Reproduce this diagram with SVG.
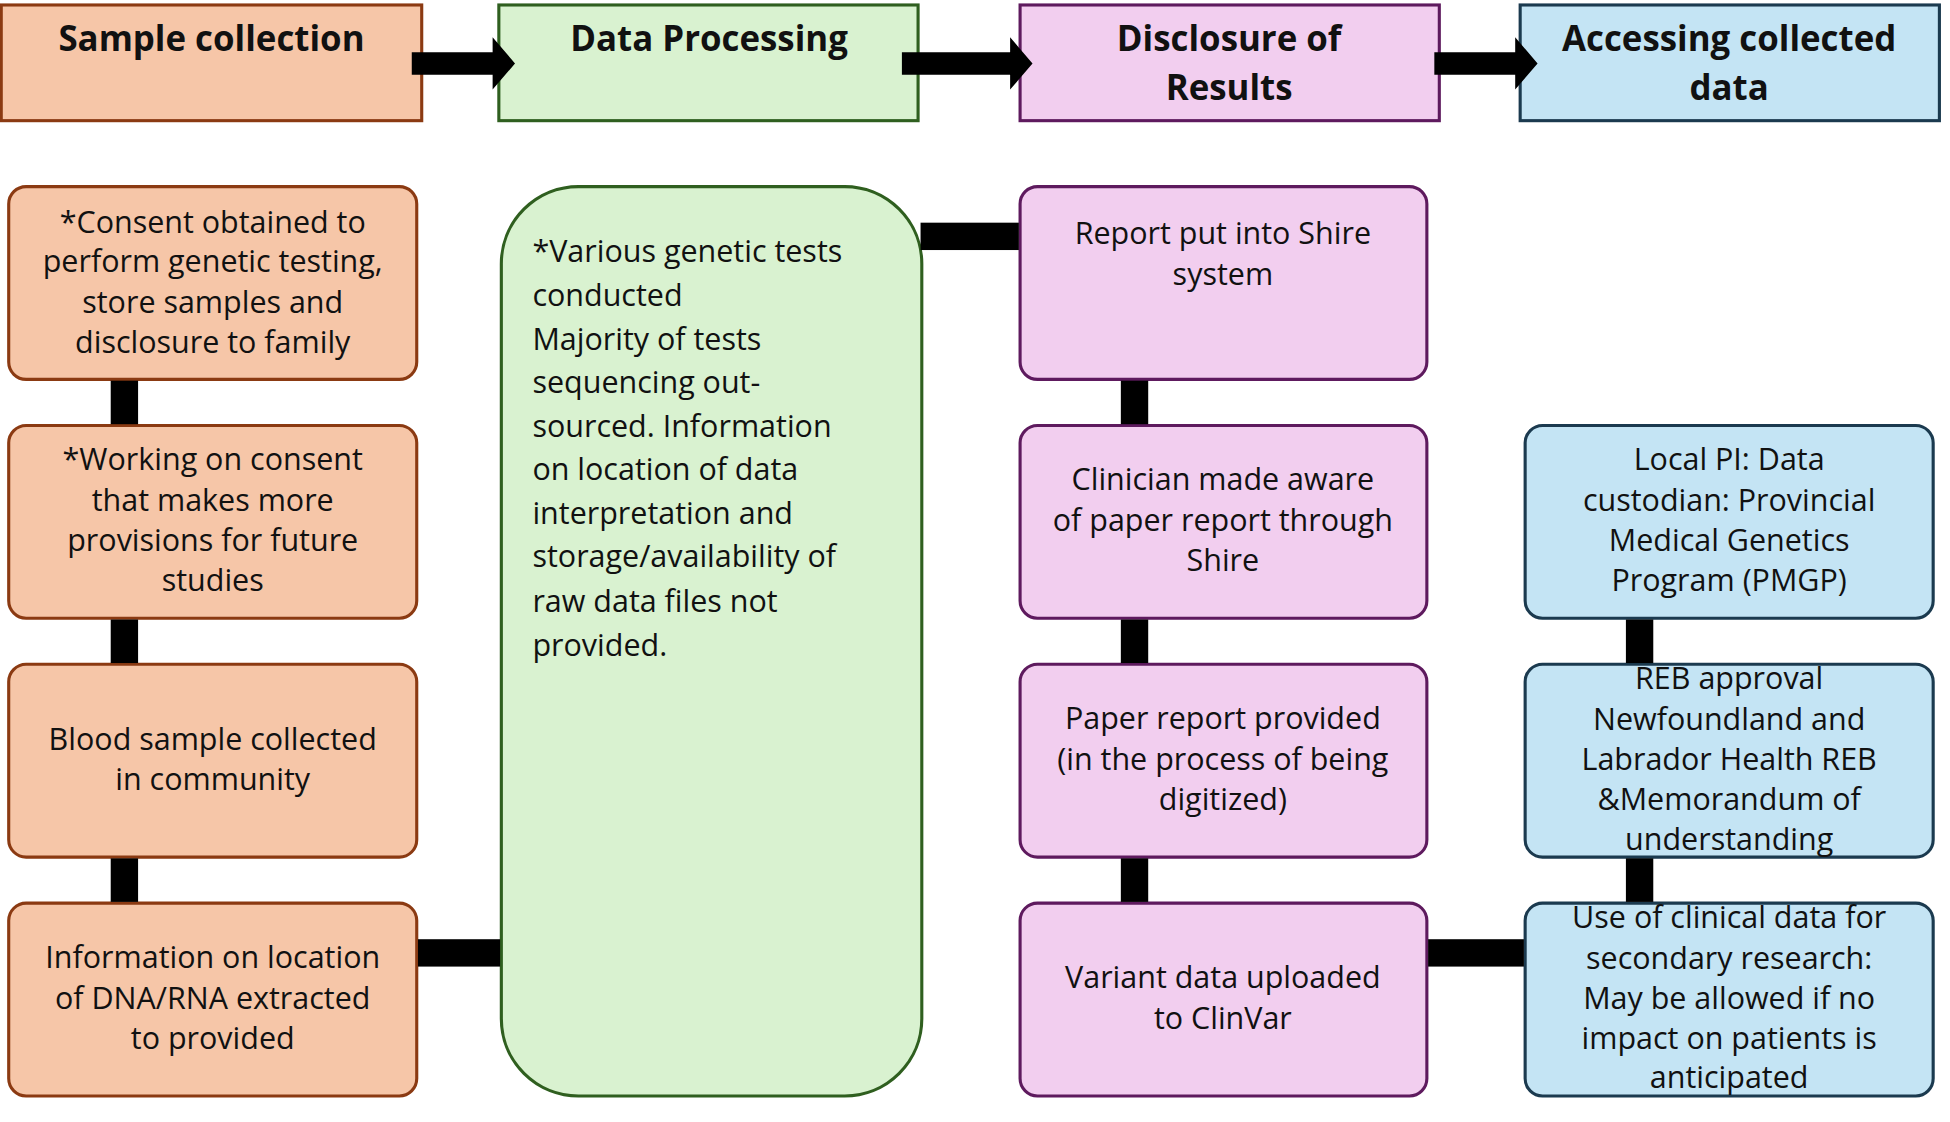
<svg xmlns="http://www.w3.org/2000/svg" width="1950" height="1122" viewBox="0 0 1950 1122">
<style>
text{font-family:"Open Sans","Liberation Sans",sans-serif;font-size:24.5px;fill:#111;text-anchor:middle}
.h{font-weight:bold;font-size:28px}
.l{text-anchor:start}
.o{fill:#F6C6A8;stroke:#8B3A12;stroke-width:2.5}
.g{fill:#D9F2D0;stroke:#2F5F1F;stroke-width:2.5}
.p{fill:#F2CEEF;stroke:#5E1A5E;stroke-width:2.5}
.b{fill:#C4E4F4;stroke:#1B3A4F;stroke-width:2.5}
</style>
<rect width="1950" height="1122" fill="#fff"/>
<g transform="scale(1.244)">
<g id="h1"><rect class="o" x="1" y="4" width="338" height="93"/><text class="h" x="170" y="41">Sample collection</text></g>
<g id="h2"><rect class="g" x="401" y="4" width="337" height="93"/><text class="h" x="570" y="41">Data Processing</text></g>
<g id="h3"><rect class="p" x="820" y="4" width="337" height="93"/><text class="h" x="988" y="41">Disclosure of</text><text class="h" x="988" y="80">Results</text></g>
<g id="h4"><rect class="b" x="1222" y="4" width="337" height="93"/><text class="h" x="1390" y="41">Accessing collected</text><text class="h" x="1390" y="80">data</text></g>
<g id="a1"><rect class="o" x="7" y="150" width="328" height="155" rx="14"/><text x="171" y="187">*Consent obtained to</text><text x="171" y="219">perform genetic testing,</text><text x="171" y="252">store samples and</text><text x="171" y="284">disclosure to family</text></g>
<g id="a2"><rect class="o" x="7" y="342" width="328" height="155" rx="14"/><text x="171" y="378">*Working on consent</text><text x="171" y="411">that makes more</text><text x="171" y="443">provisions for future</text><text x="171" y="475">studies</text></g>
<g id="a3"><rect class="o" x="7" y="534" width="328" height="155" rx="14"/><text x="171" y="603">Blood sample collected</text><text x="171" y="635">in community</text></g>
<g id="a4"><rect class="o" x="7" y="726" width="328" height="155" rx="14"/><text x="171" y="778">Information on location</text><text x="171" y="811">of DNA/RNA extracted</text><text x="171" y="843">to provided</text></g>
<g id="b1"><rect class="g" x="403" y="150" width="338" height="731" rx="62"/>
<text class="l" x="428" y="211">*Various genetic tests</text><text class="l" x="428" y="246">conducted</text><text class="l" x="428" y="281">Majority of tests</text><text class="l" x="428" y="316">sequencing  out-</text><text class="l" x="428" y="351">sourced. Information</text><text class="l" x="428" y="386">on location of data</text><text class="l" x="428" y="421">interpretation and</text><text class="l" x="428" y="456">storage/availability of</text><text class="l" x="428" y="492">raw data files not</text><text class="l" x="428" y="527">provided.</text></g>
<g id="c1"><rect class="p" x="820" y="150" width="327" height="155" rx="14"/><text x="983" y="196">Report put into Shire</text><text x="983" y="229">system</text></g>
<g id="c2"><rect class="p" x="820" y="342" width="327" height="155" rx="14"/><text x="983" y="394">Clinician made aware</text><text x="983" y="427">of paper report through</text><text x="983" y="459">Shire</text></g>
<g id="c3"><rect class="p" x="820" y="534" width="327" height="155" rx="14"/><text x="983" y="586">Paper report provided</text><text x="983" y="619">(in the process of being</text><text x="983" y="651">digitized)</text></g>
<g id="c4"><rect class="p" x="820" y="726" width="327" height="155" rx="14"/><text x="983" y="794">Variant data uploaded</text><text x="983" y="827">to ClinVar</text></g>
<g id="d1"><rect class="b" x="1226" y="342" width="328" height="155" rx="14"/><text x="1390" y="378">Local PI: Data</text><text x="1390" y="411">custodian: Provincial</text><text x="1390" y="443">Medical Genetics</text><text x="1390" y="475">Program (PMGP)</text></g>
<g id="d2"><rect class="b" x="1226" y="534" width="328" height="155" rx="14"/><text x="1390" y="554">REB approval</text><text x="1390" y="587">Newfoundland and</text><text x="1390" y="619">Labrador Health REB</text><text x="1390" y="651">&amp;Memorandum  of</text><text x="1390" y="683">understanding</text></g>
<g id="d3"><rect class="b" x="1226" y="726" width="328" height="155" rx="14"/><text x="1390" y="746">Use of clinical data for</text><text x="1390" y="779">secondary research:</text><text x="1390" y="811">May be allowed if no</text><text x="1390" y="843">impact on patients is</text><text x="1390" y="875">anticipated</text></g>
<g id="connectors" fill="#000">
<path d="M331 42H396V30L414 51L396 72V60H331Z"/>
<path d="M725 42H812V30L830 51L812 72V60H725Z"/>
<path d="M1153 42H1218V30L1236 51L1218 72V60H1153Z"/>
<rect x="89" y="306" width="22" height="35"/><rect x="89" y="498" width="22" height="35"/><rect x="89" y="690" width="22" height="35"/>
<rect x="901" y="306" width="22" height="35"/><rect x="901" y="498" width="22" height="35"/><rect x="901" y="690" width="22" height="35"/>
<rect x="1307" y="498" width="22" height="35"/><rect x="1307" y="690" width="22" height="35"/>
<rect x="336" y="755" width="66" height="22"/><rect x="740" y="179" width="79" height="22"/><rect x="1148" y="755" width="77" height="22"/>
</g>
</g>
</svg>
